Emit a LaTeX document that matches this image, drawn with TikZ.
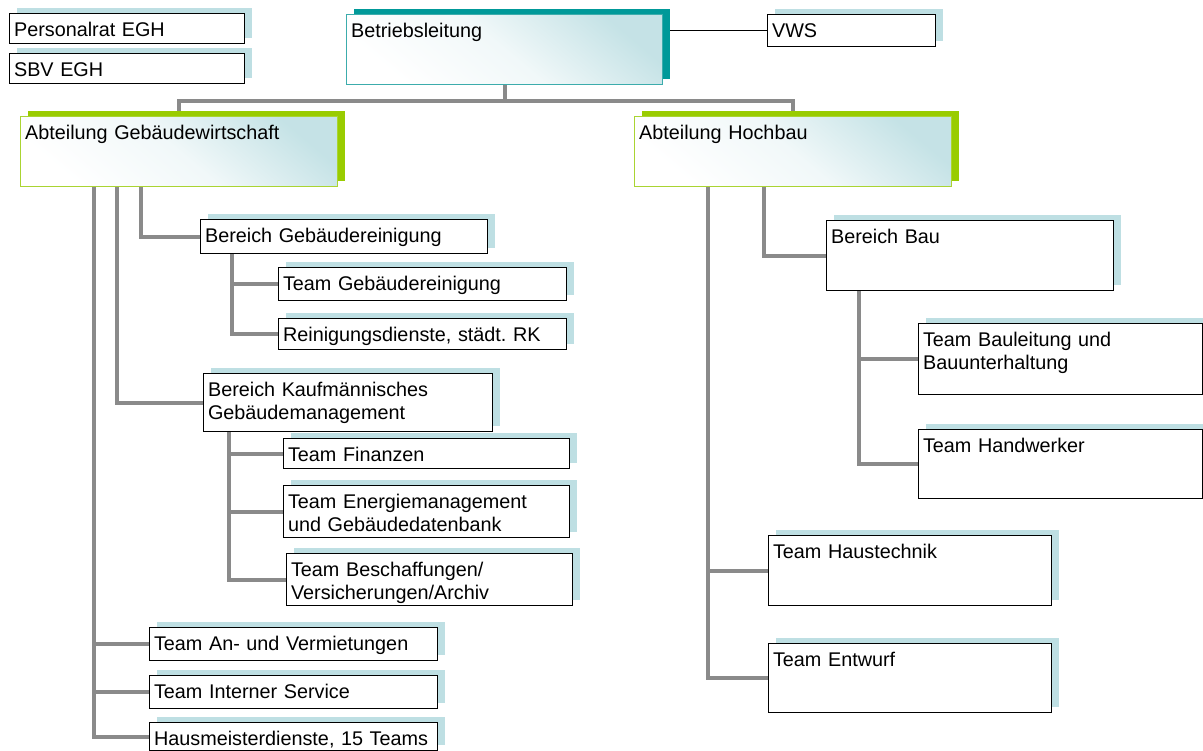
\documentclass[tikz,border=0pt]{standalone}
\usepackage{fontspec}
\setmainfont{Liberation Sans}
\usetikzlibrary{shadows,backgrounds}
\definecolor{paleblue}{RGB}{190,223,227}
\definecolor{tealdark}{RGB}{0,153,153}
\definecolor{tealline}{RGB}{60,172,172}
\definecolor{limegreen}{RGB}{153,204,0}
\definecolor{limeline}{RGB}{170,212,50}
\definecolor{linkgray}{RGB}{138,138,138}
\newcommand\orgfont{\fontsize{19.8}{23}\selectfont\frenchspacing}
\tikzset{
  cell/.style={anchor=north west,inner xsep=4.5pt,inner ysep=0pt,align=left,
    text height=22.5pt,line width=1.1pt,font=\orgfont},
  unit/.style={cell,draw=black,fill=white,
    drop shadow={shadow xshift=7pt,shadow yshift=6pt,fill=paleblue,opacity=1}},
  head/.style 2 args={cell,draw=#1,line width=1.3pt,bottom color=white,top color=paleblue!90,
    middle color=paleblue!22,shading angle=-40,
    drop shadow={shadow xshift=7pt,shadow yshift=6pt,fill=#2,opacity=1}},
  tie/.style={draw=linkgray,line width=4pt},
  wire/.style={draw=black,line width=1pt},
}
\begin{document}
\begin{tikzpicture}[x=1pt,y=-1pt]
\useasboundingbox (0,0) rectangle (1203,751);
\node[unit,text width=226pt,text depth=7.5pt] (pr) at (9,13) {Personalrat EGH};
\node[unit,text width=226pt,text depth=7.5pt] (sbv) at (9,53) {SBV EGH};
\node[head={tealline}{tealdark},text width=307pt,text depth=47.5pt] (bl) at (346,14) {Betriebsleitung};
\node[unit,text width=159pt,text depth=9.5pt] (vws) at (767,14) {VWS};
\node[head={limeline}{limegreen},text width=308pt,text depth=47.5pt] (gw) at (20,116) {Abteilung Gebäudewirtschaft};
\node[head={limeline}{limegreen},text width=308pt,text depth=47.5pt] (hb) at (634,116) {Abteilung Hochbau};
\node[unit,text width=278pt,text depth=11.5pt] (bgr) at (200,219) {Bereich Gebäudereinigung};
\node[unit,text width=279pt,text depth=10.5pt] (tgr) at (278,267) {Team Gebäudereinigung};
\node[unit,text width=279pt,text depth=8.5pt] (rk) at (278,318) {Reinigungsdienste, städt. RK};
\node[unit,text width=280pt,text depth=35.5pt] (bkg) at (203,373) {Bereich Kaufmännisches\\Gebäudemanagement};
\node[unit,text width=277pt,text depth=7.5pt] (tfi) at (283,438) {Team Finanzen};
\node[unit,text width=277pt,text depth=29.5pt] (tem) at (283,485) {Team Energiemanagement\\und Gebäudedatenbank};
\node[unit,text width=277pt,text depth=29.5pt] (tbe) at (286,553) {Team Beschaffungen/\\Versicherungen/Archiv};
\node[unit,text width=279pt,text depth=10.5pt] (tav) at (149,627) {Team An- und Vermietungen};
\node[unit,text width=279pt,text depth=10.5pt] (tis) at (149,675) {Team Interner Service};
\node[unit,text width=279pt,text depth=5.5pt] (hmd) at (149,722) {Hausmeisterdienste, 15 Teams};
\node[unit,text width=278pt,text depth=47.5pt] (bb) at (826,220) {Bereich Bau};
\node[unit,text width=275pt,text depth=48.5pt] (tbl) at (918,323) {Team Bauleitung und\\Bauunterhaltung};
\node[unit,text width=275pt,text depth=46.5pt] (thw) at (918,429) {Team Handwerker};
\node[unit,text width=274pt,text depth=47.5pt] (tht) at (768,535) {Team Haustechnik};
\node[unit,text width=274pt,text depth=46.5pt] (ten) at (768,643) {Team Entwurf};
\coordinate (gwa) at ([xshift=74pt]gw.south west);
\coordinate (gwb) at ([xshift=97pt]gw.south west);
\coordinate (gwc) at ([xshift=121pt]gw.south west);
\coordinate (bgrs) at ([xshift=32pt]bgr.south west);
\coordinate (bkgs) at ([xshift=26pt]bkg.south west);
\coordinate (hba) at ([xshift=74pt]hb.south west);
\coordinate (hbb) at ([xshift=130pt]hb.south west);
\coordinate (bbs) at ([xshift=33pt]bb.south west);
\begin{scope}[on background layer]
\fill[white] (0,0) rectangle (1203,751);
\draw[tie] (bl.south) -- ++(0,16) coordinate (bus);
\draw[tie] (gw.north) |- (bus) -| (hb.north);
\draw[tie] (gwc) |- (bgr.west);
\draw[tie] (gwb) |- (bkg.west);
\draw[tie] (gwa) |- (hmd.west) (gwa |- tav.west) -- (tav.west) (gwa |- tis.west) -- (tis.west);
\draw[tie] (bgrs) |- (rk.west) (bgrs |- tgr.west) -- (tgr.west);
\draw[tie] (bkgs) |- (tbe.west) (bkgs |- tfi.west) -- (tfi.west) (bkgs |- tem.west) -- (tem.west);
\draw[tie] (hbb) |- (bb.west);
\draw[tie] (hba) |- (ten.west) (hba |- tht.west) -- (tht.west);
\draw[tie] (bbs) |- (thw.west) (bbs |- tbl.west) -- (tbl.west);
\draw[wire] (vws.west) -- (vws.west -| bl.east);
\end{scope}
\end{tikzpicture}
\end{document}
